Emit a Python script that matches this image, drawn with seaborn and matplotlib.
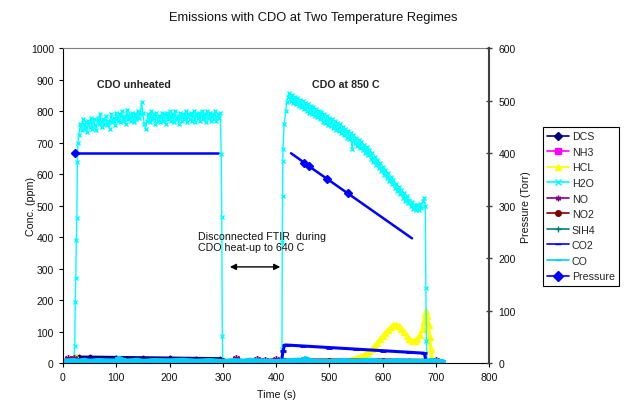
import matplotlib
matplotlib.use('Agg')
import matplotlib.pyplot as plt
from matplotlib.lines import Line2D
import numpy as np
import seaborn as sns

sns.set_style('ticks')
plt.rcParams['font.family'] = ['Liberation Sans', 'DejaVu Sans']
plt.rcParams['font.size'] = 7.7

# ---- data (time in s, conc in ppm, pressure in Torr) ----
# H2O, sampled every 2.5 s on the two plateaus
h2o_start_t = [0, 5, 10, 15, 20, 22, 23, 24, 25, 26, 27, 28]
h2o_start_v = [2, 3, 2, 3, 2, 55, 195, 270, 390, 460, 640, 700]
h2o_plat1_t = list(np.arange(30, 295.1, 2.5))
h2o_plat1_v = [725, 760, 740, 775, 745, 765, 735, 770, 750, 780,
               745, 775, 755, 740, 780, 760, 790, 750, 775, 760,
               785, 755, 770, 745, 790, 765, 780, 755, 795, 770,
               790, 765, 800, 770, 785, 760, 805, 775, 790, 770,
               795, 765, 790, 775, 800, 780, 790, 828, 795, 760,
               745, 770, 790, 765, 800, 775, 790, 760, 795, 770,
               785, 765, 795, 770, 790, 760, 795, 775, 800, 770,
               790, 765, 800, 775, 785, 760, 795, 770, 790, 775,
               800, 765, 790, 775, 795, 770, 800, 765, 790, 780,
               795, 770, 800, 775, 790, 765, 800, 780, 795, 770,
               790, 775, 800, 770, 790, 780, 795]
h2o_gap_t = [297, 298, 299, 300, 320, 350, 380, 405, 410,
             411, 411.5, 412, 412.5, 413, 415, 418, 420, 422.5]
h2o_gap_v = [663, 463, 86, 3, 4, 3, 4, 3, 5,
             44, 384, 531, 641, 679, 760, 800, 830, 845]
h2o_plat2_t = list(np.arange(425, 677.6, 2.5))
h2o_plat2_v = [858, 832, 852, 826, 846, 822, 842, 816, 836, 812,
               832, 806, 826, 802, 822, 796, 818, 792, 812, 786,
               808, 782, 802, 776, 798, 766, 792, 762, 784, 756,
               778, 752, 774, 746, 768, 742, 764, 736, 758, 732,
               750, 724, 744, 716, 738, 712, 730, 680, 724, 700,
               716, 690, 708, 684, 702, 676, 694, 668, 686, 660,
               676, 650, 666, 640, 656, 630, 646, 620, 636, 610,
               624, 598, 614, 588, 604, 578, 592, 568, 582, 556,
               570, 546, 560, 536, 549, 526, 539, 516, 530, 508,
               518, 498, 511, 490, 504, 486, 501, 488, 506, 492,
               515, 525]
h2o_end_t = [680, 681, 682, 683, 690, 700, 712]
h2o_end_v = [500, 240, 70, 0, 2, 3, 2]

dcs_t = [0, 10, 20, 25, 30, 50, 100, 150, 200, 250, 295, 300, 310, 350, 400, 410,
         415, 450, 500, 550, 600, 650, 680, 690, 700, 712]
dcs_v = [5, 6, 8, 20, 19, 19, 18, 17, 16, 15, 14, 5, 4, 3, 3, 3,
         8, 8, 8, 7, 7, 7, 6, 3, 3, 2]

nh3_t = [0, 200, 400, 600, 712]
nh3_v = [0, 0, 0, 0, 0]

hcl_t = [0, 20, 25, 30, 40, 100, 200, 300, 400, 450, 480, 500, 520,
         540, 545, 550, 555, 560, 565, 570, 575, 580, 585, 590, 595, 600, 605,
         610, 615, 620, 625, 630, 635, 640, 645, 650, 655, 660, 665, 670, 675,
         678, 680, 682, 684, 686, 688, 690, 692, 695, 700, 712]
hcl_v = [0, 2, 20, 8, 3, 2, 2, 2, 2, 2, 3, 5, 8,
         12, 14, 16, 18, 22, 26, 32, 38, 46, 55, 65, 76, 86, 96,
         106, 114, 120, 122, 118, 110, 100, 88, 76, 70, 72, 78, 90, 110,
         135, 155, 166, 150, 120, 85, 45, 15, 4, 2, 1]

no_t = [0, 10, 20, 30, 60, 100, 200, 300, 320, 325, 330, 350, 365, 380, 400,
        420, 500, 600, 690, 700, 712]
no_v = [8, 16, 18, 6, 4, 4, 4, 4, 6, 18, 8, 6, 15, 10, 14,
        4, 3, 3, 6, 10, 4]

no2_t = [0, 20, 30, 100, 200, 300, 310, 400, 415, 500, 600, 680, 690, 712]
no2_v = [3, 4, 10, 10, 9, 9, 4, 4, 10, 10, 10, 9, 3, 2]

sih4_t = [0, 100, 200, 300, 400, 500, 600, 700, 712]
sih4_v = [1, 2, 1, 1, 2, 1, 1, 2, 1]

co2_t = [0, 20, 25, 50, 100, 150, 200, 250, 300, 350, 400, 410, 413, 416, 420,
         450, 500, 550, 600, 650, 678, 682, 690, 712]
co2_v = [3, 4, 12, 12, 11, 10, 10, 9, 9, 4, 4, 5, 40, 58, 58,
         55, 50, 45, 40, 35, 32, 5, 2, 2]

co_t = [0, 10, 20, 30, 40, 50, 65, 80, 100, 105, 110, 120, 140, 150, 170, 200,
        225, 250, 275, 300, 320, 340, 350, 375, 400, 420, 440, 450, 455, 460,
        470, 500, 525, 550, 575, 600, 625, 650, 680, 690, 700, 712]
co_v = [4, 6, 7, 5, 8, 4, 7, 6, 5, 14, 9, 5, 8, 4, 7, 6,
        8, 5, 7, 4, 7, 5, 8, 5, 4, 6, 8, 6, 13, 9,
        5, 4, 7, 5, 8, 4, 6, 5, 4, 7, 5, 4]

press1_t = [22, 290]
press1_v = [400, 400]
press2_t = [428, 453, 462, 496, 534, 655]
press2_v = [400, 382, 375, 351, 324, 238]

series_names = ['DCS', 'NH3', 'HCL', 'H2O', 'NO', 'NO2', 'SIH4', 'CO2', 'CO', 'Pressure']
series_colors = ['#000080', '#FF00FF', '#FFFF00', '#00FFFF', '#800080', '#800000',
                 '#008080', '#0000FF', '#00CCFF', '#0000FF']
series_markers = ['D', 's', '^', 'x', (6, 2, 0), 'o', '+', '_', '_', 'D']

h2o_t = h2o_start_t + h2o_plat1_t + h2o_gap_t + h2o_plat2_t + h2o_end_t
h2o_v = h2o_start_v + h2o_plat1_v + h2o_gap_v + h2o_plat2_v + h2o_end_v


def draw(ax, t, v, color, marker, ms, lw, mew=1.0, markevery=None):
    sns.lineplot(x=t, y=v, ax=ax, color=color, marker=marker, markersize=ms,
                 linewidth=lw, markeredgecolor=color, markerfacecolor=color,
                 markeredgewidth=mew, estimator=None, sort=False, markevery=markevery)


fig = plt.figure(figsize=(6.25, 4.06), dpi=100)
ax = fig.add_axes([0.1008, 0.1027, 0.682, 0.776])
ax2 = ax.twinx()

# Excel draws series in legend order, later ones on top
draw(ax, dcs_t, dcs_v, series_colors[0], 'D', 2.5, 2.5)
draw(ax, nh3_t, nh3_v, series_colors[1], 's', 3, 1.5)
draw(ax, hcl_t, hcl_v, series_colors[2], '^', 5, 2.5)
draw(ax, h2o_t, h2o_v, series_colors[3], 'x', 3.5, 1.0)
draw(ax, no_t, no_v, series_colors[4], (6, 2, 0), 5, 1.5)
draw(ax, no2_t, no2_v, series_colors[5], 'o', 2.5, 2.5)
draw(ax, sih4_t, sih4_v, series_colors[6], '+', 4, 2.0)
draw(ax, co2_t, co2_v, series_colors[7], '_', 4, 2.2, mew=2)
draw(ax, co_t, co_v, series_colors[8], '_', 6, 4.5, mew=3)

draw(ax2, press1_t, press1_v, series_colors[9], 'D', 4.5, 1.8, markevery=[0])
draw(ax2, press2_t, press2_v, series_colors[9], 'D', 4.5, 1.8, markevery=[1, 2, 3, 4])

ax.set_xlim(0, 800)
ax.set_ylim(0, 1000)
ax2.set_ylim(0, 600)
ax.set_xticks(range(0, 801, 100))
ax.set_yticks(range(0, 1001, 100))
ax2.set_yticks(range(0, 601, 100))

ax.spines['top'].set_color('#808080')
ax.spines['top'].set_linewidth(0.8)
ax.spines['right'].set_visible(False)
ax.spines['left'].set_color('black')
ax.spines['bottom'].set_color('black')
for s in ['top', 'left', 'bottom']:
    ax2.spines[s].set_visible(False)
ax2.spines['right'].set_color('#404040')
ax2.spines['right'].set_linewidth(1.5)

ax.tick_params(axis='both', direction='out', length=3, width=0.8, color='black',
               labelcolor='#111111', labelsize=7.5, pad=3.6)
ax2.tick_params(axis='y', direction='inout', length=4.5, width=1.0, color='#404040',
                labelcolor='#111111', labelsize=7.5, pad=4.3)

ax.set_xlabel('Time (s)', fontsize=7.7, color='#111111')
ax.set_ylabel('Conc. (ppm)', fontsize=7.7, color='#111111')
ax2.set_ylabel('Pressure (Torr)', fontsize=7.7, color='#111111')
ax.xaxis.set_label_coords(0.5, -0.083)
ax.yaxis.set_label_coords(-0.063, 0.5)
ax2.yaxis.set_label_coords(1.0743, 0.5)

fig.text(313 / 625, 1 - 18 / 406, 'Emissions with CDO at Two Temperature Regimes',
         ha='center', va='center', fontsize=9.3, color='#111111')

ax.text(64, 886, 'CDO unheated', fontsize=7.7, fontweight='bold', ha='left', va='center')
ax.text(467, 886, 'CDO at 850 C', fontsize=7.7, fontweight='bold', ha='left', va='center')
ax.text(254, 387, 'Disconnected FTIR  during\nCDO heat-up to 640 C', fontsize=7.7,
        ha='left', va='center', linespacing=1.2, color='#111111')
ax.annotate('', xy=(308, 306), xytext=(413, 306),
            arrowprops=dict(arrowstyle='<|-|>', color='black', lw=1, mutation_scale=9))

handles = []
for name, c, m in zip(series_names, series_colors, series_markers):
    ms = 5 if name == 'Pressure' else 4
    handles.append(Line2D([], [], color=c, marker=m, markersize=ms, markerfacecolor=c,
                          markeredgecolor=c, lw=1.2))
leg = fig.legend(handles, series_names, loc='upper left',
                 bbox_to_anchor=(543 / 625, 1 - 128 / 406), frameon=True, fancybox=False,
                 edgecolor='black', framealpha=1, fontsize=7.7, handlelength=2.0,
                 handletextpad=0.3, labelspacing=0.52, borderpad=0.4, borderaxespad=0)
leg.get_frame().set_linewidth(0.8)

fig.savefig('out.png', dpi=100)
